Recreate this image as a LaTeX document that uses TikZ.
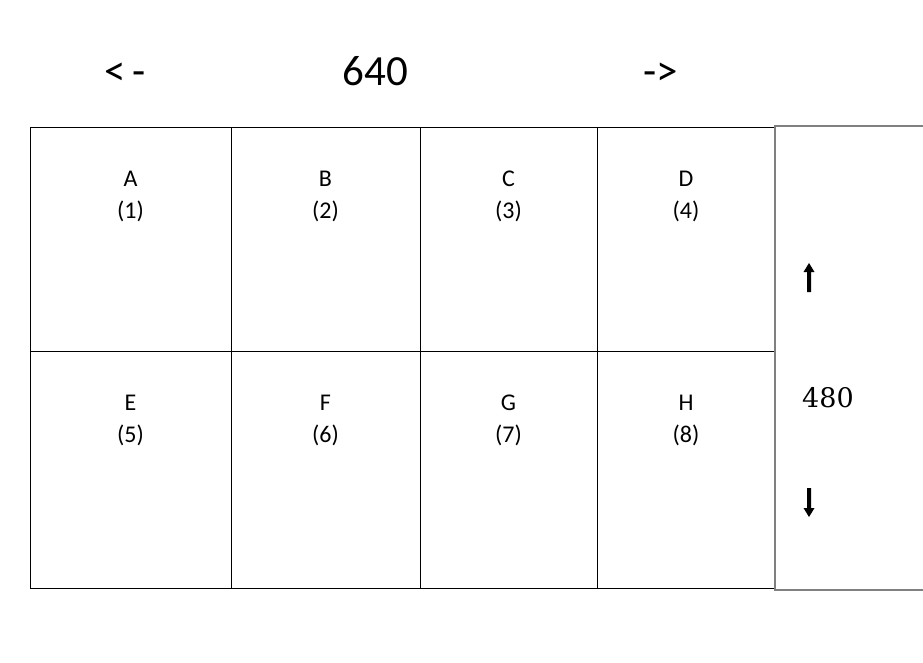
\documentclass[tikz,border=0pt]{standalone}
\usepackage{fontspec}
\setmainfont{Carlito}
\newfontfamily\numserif{DejaVu Serif}
\begin{document}
\begin{tikzpicture}[x=1pt,y=-1pt,
  cellbox/.style={draw=black,line width=1pt,rectangle,inner sep=0pt,anchor=north west},
  celltext/.style={font=\fontsize{24}{28}\selectfont,inner sep=0pt,anchor=base},
  toptext/.style={font=\fontsize{43}{48}\selectfont,inner sep=0pt,anchor=base},
  sidebox/.style={draw=black!50,line width=2pt},
  thickarrow/.style={fill=black,draw=none}]
\useasboundingbox (0,0) rectangle (923,662);
% grid cells
\foreach \name/\xa/\xb/\ya/\yb in {c1/30/231/127/351, c2/231/420/127/351, c3/420/597/127/351, c4/597/775/127/351,
  c5/30/231/351/588, c6/231/420/351/588, c7/420/597/351/588, c8/597/775/351/588}{
  \node[cellbox,minimum width={(\xb-\xa)*1pt},minimum height={(\yb-\ya)*1pt}] (\name) at (\xa,\ya) {};
}
% cell labels
\foreach \l/\n/\cx/\cy in {A/1/130.5/186, B/2/325.5/186, C/3/508.5/186, D/4/686/186,
  E/5/130.5/410, F/6/325.5/410, G/7/508.5/410, H/8/686/410}{
  \node[celltext] (l\n) at (\cx,\cy) {\l};
  \node[celltext] (n\n) at (\cx,\cy+32) {(\n)};
}
% top labels
\node[toptext] (left) at (125,85) {<\,-};
\node[toptext] (w) at (375.5,85) {640};
\node[toptext] (right) at (661,85) {->};
% side box (open on the right)
\draw[sidebox] (930,126) -- (775,126) -- (775,590) -- (930,590);
\node[font=\numserif\fontsize{27}{30}\selectfont,inner sep=0pt,anchor=base] (h) at (828,407) {480};
% up arrow
\fill[thickarrow] (809,263) -- (814.5,272) -- (811,272) -- (811,292) -- (807,292) -- (807,272) -- (803.5,272) -- cycle;
% down arrow
\fill[thickarrow] (809,517) -- (814.5,508) -- (811,508) -- (811,488) -- (807,488) -- (807,508) -- (803.5,508) -- cycle;
\end{tikzpicture}
\end{document}
